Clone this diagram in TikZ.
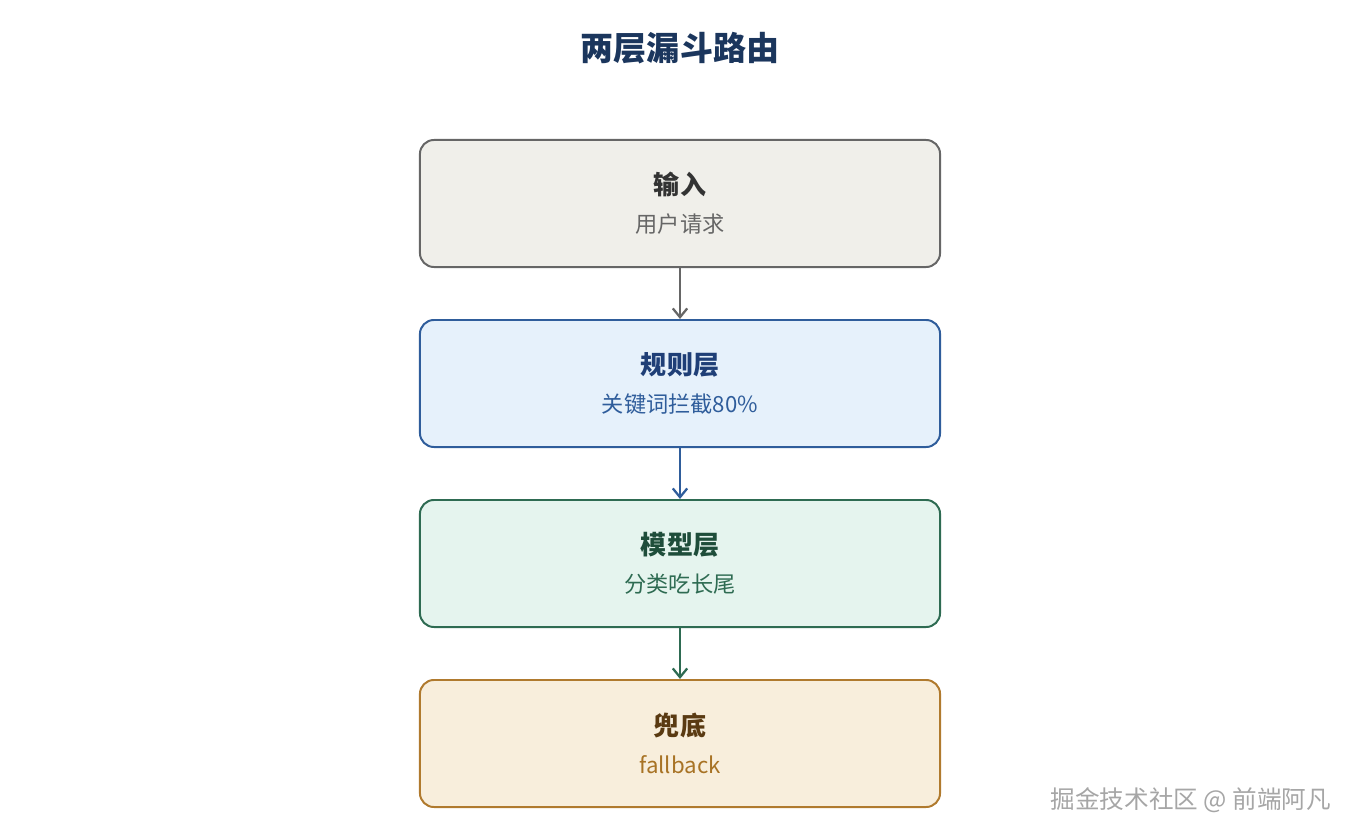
\documentclass[tikz,border=0pt]{standalone}
\usepackage{fontspec}
\setmainfont{Noto Sans CJK SC}
\usepackage{tikz}
\usetikzlibrary{arrows.meta,positioning}
\definecolor{titlenavy}{HTML}{1B365D}
\definecolor{inputfill}{HTML}{F0EFEA}
\definecolor{inputline}{HTML}{666666}
\definecolor{inputtext}{HTML}{333333}
\definecolor{inputsub}{HTML}{666666}
\definecolor{rulefill}{HTML}{E6F1FB}
\definecolor{ruleline}{HTML}{2F5D9B}
\definecolor{ruletext}{HTML}{1F3F77}
\definecolor{modelfill}{HTML}{E5F4EE}
\definecolor{modelline}{HTML}{2E6B52}
\definecolor{modeltext}{HTML}{1E4D3A}
\definecolor{backfill}{HTML}{F8EEDC}
\definecolor{backline}{HTML}{B07A2E}
\definecolor{backtext}{HTML}{5A3A12}
\definecolor{backsub}{HTML}{A87325}
\begin{document}
\begin{tikzpicture}[
    x=0.025cm, y=-0.025cm,
    layer/.style={rounded corners=14*0.025cm, line width=1.4pt, minimum width=13cm, minimum height=3.175cm, align=center, inner sep=0pt},
    arrow/.style={-{Straight Barb[length=2.2mm, width=3.6mm]}, line width=1.6pt}
]
\useasboundingbox (0,0) rectangle (1360,840);
\node[font=\fontsize{23.5pt}{28pt}\selectfont\bfseries, text=titlenavy] (title) at (680,48) {两层漏斗路由};
\node[layer, draw=inputline, fill=inputfill] (input) at (680,203.5)
  {{\fontsize{18.5pt}{22pt}\selectfont\bfseries\color{inputtext}输入}\\[11pt]
   {\fontsize{15.8pt}{19pt}\selectfont\color{inputsub}用户请求}};
\node[layer, draw=ruleline, fill=rulefill] (rule) at (680,383.5)
  {{\fontsize{18.5pt}{22pt}\selectfont\bfseries\color{ruletext}规则层}\\[11pt]
   {\fontsize{15.8pt}{19pt}\selectfont\color{ruleline}关键词拦截80\%}};
\node[layer, draw=modelline, fill=modelfill] (model) at (680,563.5)
  {{\fontsize{18.5pt}{22pt}\selectfont\bfseries\color{modeltext}模型层}\\[11pt]
   {\fontsize{15.8pt}{19pt}\selectfont\color{modelline}分类吃长尾}};
\node[layer, draw=backline, fill=backfill] (back) at (680,743.5)
  {{\fontsize{18.5pt}{22pt}\selectfont\bfseries\color{backtext}兜底}\\[11pt]
   {\fontsize{15.8pt}{19pt}\selectfont\color{backsub}fallback}};
\draw[arrow, draw=inputline] (input) -- (rule);
\draw[arrow, draw=ruleline] (rule) -- (model);
\draw[arrow, draw=modelline] (model) -- (back);
\node[font=\fontsize{17.5pt}{21pt}\selectfont, text=black!35, anchor=east] (mark) at (1336,800) {掘金技术社区 @ 前端阿凡};
\end{tikzpicture}
\end{document}
